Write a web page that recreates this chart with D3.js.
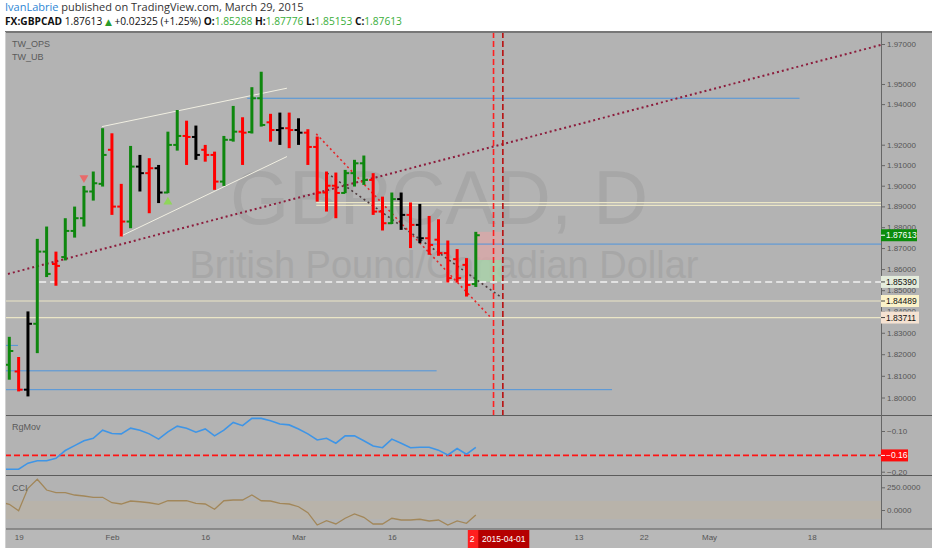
<!DOCTYPE html>
<html>
<head>
<meta charset="utf-8">
<script src="https://cdn.jsdelivr.net/npm/d3@7"></script>
<style>
  body { margin: 0; background: #fff; }
  svg { display: block; font-family: "Liberation Sans", Arial, sans-serif; }
  .axis path { display: none; }
  .axis line { stroke: #666; }
  .axis text { font-size: 8px; fill: #555; }
  .hdr { font-family: "Open Sans", sans-serif; font-size: 11px; }
  .hdr2 { font-family: "Open Sans", sans-serif; font-size: 10.2px; }
  .pane-label { font-size: 9px; fill: #5a5a5a; }
</style>
</head>
<body>
<svg id="chart" width="932" height="550"></svg>
<script>
// Daily GBPCAD bars, 16 Jan - 27 Mar 2015, one entry per trading day.
var opens  = [1.8151, 1.8120, 1.8036, 1.8342, 1.8683, 1.8624, 1.8657, 1.8782, 1.8843, 1.8972,
              1.9009, 1.9175, 1.8899, 1.8827, 1.9093, 1.9061, 1.9085, 1.8967, 1.9199, 1.9243,
              1.9238, 1.9175, 1.9150, 1.9020, 1.9224, 1.9264, 1.9262, 1.9429, 1.9310, 1.9272,
              1.9281, 1.9272, 1.9259, 1.9189, 1.8967, 1.9000, 1.8965, 1.9061, 1.9109, 1.9028,
              1.8875, 1.8819, 1.8935, 1.8859, 1.8811, 1.8747, 1.8740, 1.8676, 1.8647, 1.8620,
              1.85288];
var highs  = [1.8281, 1.8187, 1.8400, 1.8744, 1.8803, 1.8683, 1.8843, 1.8899, 1.8999, 1.9069,
              1.9281, 1.9256, 1.9009, 1.9194, 1.9150, 1.9134, 1.9101, 1.9264, 1.9371, 1.9318,
              1.9294, 1.9199, 1.9166, 1.9243, 1.9391, 1.9335, 1.9484, 1.9561, 1.9352, 1.9358,
              1.9358, 1.9330, 1.9276, 1.9240, 1.9069, 1.9064, 1.9077, 1.9126, 1.9147, 1.9061,
              1.8947, 1.8967, 1.8967, 1.8919, 1.8912, 1.8854, 1.8838, 1.8736, 1.8695, 1.8652,
              1.87776];
var lows   = [1.8082, 1.8028, 1.8005, 1.8205, 1.8562, 1.8521, 1.8641, 1.8750, 1.8803, 1.8928,
              1.8996, 1.8859, 1.8755, 1.8795, 1.8972, 1.8867, 1.8916, 1.8964, 1.9171, 1.9101,
              1.9126, 1.9117, 1.8980, 1.8999, 1.9215, 1.9101, 1.9255, 1.9289, 1.9215, 1.9199,
              1.9183, 1.9199, 1.9101, 1.8923, 1.8875, 1.8843, 1.8964, 1.8996, 1.9004, 1.8859,
              1.8784, 1.8815, 1.8787, 1.8700, 1.8723, 1.8668, 1.8663, 1.8536, 1.8536, 1.8470,
              1.85153];
var closes = [1.8215, 1.8036, 1.8342, 1.8683, 1.8577, 1.8615, 1.8782, 1.8843, 1.8972, 1.9012,
              1.9150, 1.8899, 1.8827, 1.9093, 1.9061, 1.9085, 1.8967, 1.9199, 1.9243, 1.9238,
              1.9150, 1.9150, 1.9020, 1.9224, 1.9264, 1.9259, 1.9429, 1.9297, 1.9272, 1.9281,
              1.9272, 1.9259, 1.9189, 1.8967, 1.9000, 1.8965, 1.9061, 1.9109, 1.9028, 1.8875,
              1.8819, 1.8935, 1.8859, 1.8811, 1.8747, 1.8715, 1.8676, 1.8557, 1.8557, 1.8525,
              1.87613];
// bar painting from the TW_OPS study: u = green, d = red, n = black
var barState = ["u","d","n","u","u","d","u","u","u","u",
                "u","d","d","u","n","d","n","u","u","d",
                "n","d","d","u","u","d","u","u","d","n",
                "d","n","d","d","d","d","u","u","u","d",
                "d","u","n","d","n","d","d","d","d","d",
                "u"];

// RgMov and CCI readings, starting one bar before the first OHLC bar
var studyStart = -1;
var rgMov = [-0.194, -0.194, -0.194, -0.179, -0.173, -0.173, -0.167, -0.148, -0.136, -0.124,
             -0.118, -0.098, -0.106, -0.107, -0.093, -0.098, -0.107, -0.120, -0.102, -0.088,
             -0.093, -0.103, -0.095, -0.112, -0.098, -0.079, -0.087, -0.069, -0.069, -0.075,
             -0.083, -0.085, -0.095, -0.107, -0.122, -0.118, -0.130, -0.112, -0.112, -0.124,
             -0.137, -0.141, -0.120, -0.130, -0.141, -0.140, -0.140, -0.147, -0.159, -0.143,
             -0.157, -0.140];
var rgMovLevel = -0.16;
var cci = [88, 63, -8, 239, 338, 220, 191, 191, 165, 154,
           140, 140, 80, 66, 99, 91, 80, 63, 102, 102,
           102, 74, 66, 8, 102, 110, 110, 165, 102, 99,
           74, 66, 36, -30, -165, -118, -154, -91, -44, -80,
           -154, -154, -91, -110, -110, -102, -121, -110, -165, -121,
           -146, -55];
var cciBand = [100, -100];

// axis ticks
var priceTicks = [1.97, 1.95, 1.94, 1.92, 1.91, 1.90, 1.89, 1.88, 1.87, 1.86,
                  1.85, 1.84, 1.83, 1.82, 1.81, 1.80];
var rgTicks = [-0.10, -0.20];
var cciTicks = [250, 0];
var dateTickBar = [1, 11, 21, 31, 41, 61, 68, 75, 86];
var dateTickLabel = ["19", "Feb", "16", "Mar", "16", "13", "22", "May", "18"];

// drawings on the price pane (bar index / price)
var levelPrice = [1.9429, 1.8719, 1.8123, 1.8036, 1.8241, 1.8918, 1.8905, 1.84489, 1.83711, 1.8539];
var levelFrom  = [25.5, 45.1, null, null, null, 32.9, 32.9, null, null, 3.2];
var levelTo    = [84.7, null, 45.8, 64.6, 0.93, null, null, null, null, null];
var levelKind  = ["blue", "blue", "blue", "blue", "blue", "cream", "cream", "cream", "cream", "dash"];

var trendK1 = [-0.14, 32.9, 34.05, 9.94, 11.87];
var trendP1 = [1.8577, 1.9253, 1.9062, 1.9289, 1.8755];
var trendK2 = [93.4, 51.5, 52.8, 29.76, 29.76];
var trendP2 = [1.9695, 1.8376, 1.8464, 1.9479, 1.9142];
var trendKind = ["maroon", "red", "dark", "white", "white"];

var vLineBar = [51.9, 52.9];
var vLineKind = ["red", "darkred"];

var zoneK1 = [50.07, 50.07];
var zoneK2 = [52.75, 52.75];
var zoneTop = [1.87776, 1.8643];
var zoneBottom = [1.8643, 1.8539];
var zoneKind = ["loss", "gain"];

var markBar = [8, 17];
var markPrice = [1.9038, 1.8922];
var markDir = ["down", "up"];

var axisLabelPrice = [1.8539, 1.84489, 1.83711];
var axisLabelKind = ["dash", "cream1", "cream2"];
var cursorLabels = ["2", "2015-04-01"];

// ---------------------------------------------------------------
var width = 932, height = 550;
var p = { left: 5, right: 881, top: 32, main: 415, rg: 475, cci: 529, bottom: 548 };

var colors = { u: "#0e870e", d: "#ff0000", n: "#000000" };
var lineStyle = {
  blue:  { stroke: "#4f95dc", w: 1, dash: null },
  cream: { stroke: "#ebe6c6", w: 1.2, dash: null },
  dash:  { stroke: "#f2f2f2", w: 1.5, dash: "7,4" },
  maroon:{ stroke: "#8c1c3c", w: 2, dash: "2,3" },
  red:   { stroke: "#e3262a", w: 1.6, dash: "2,3" },
  dark:  { stroke: "#4d3b3d", w: 1.6, dash: "2,3" },
  white: { stroke: "#f1efe2", w: 1, dash: null }
};

var x = d3.scaleLinear().domain([0, 50]).range([9.3, 475.8]);
var y = d3.scaleLog().domain([1.80, 1.97]).range([397.5, 44]);
var yRg = d3.scaleLinear().domain([-0.20, -0.10]).range([471.7, 431]);
var yCci = d3.scaleLinear().domain([0, 250]).range([510, 487.3]);

var svg = d3.select("#chart");
var defs = svg.append("defs");
function clip(id, y0, y1) {
  defs.append("clipPath").attr("id", id).append("rect")
    .attr("x", p.left).attr("y", y0).attr("width", p.right - p.left).attr("height", y1 - y0);
}
clip("clipMain", p.top, p.main);
clip("clipRg", p.main + 1, p.rg);
clip("clipCci", p.rg + 1, p.cci);

// backgrounds
svg.append("rect").attr("width", width).attr("height", height).attr("fill", "#fff");
svg.append("rect").attr("x", p.left).attr("y", p.top)
  .attr("width", width - p.left).attr("height", p.bottom - p.top).attr("fill", "#b3b3b3");
svg.append("rect").attr("x", p.left).attr("y", p.cci)
  .attr("width", width - p.left).attr("height", p.bottom - p.cci).attr("fill", "#b8b8b8");

// header
var h1 = svg.append("text").attr("class", "hdr").attr("x", 5).attr("y", 11);
h1.append("tspan").attr("fill", "#2d86d4").text("IvanLabrie");
h1.append("tspan").attr("fill", "#333").text(" published on TradingView.com, March 29, 2015");

var last = closes.length - 1;
var chg = closes[last] - opens[last];
var f5 = d3.format(".5f");
var h2 = svg.append("text").attr("class", "hdr2").attr("x", 5).attr("y", 25).attr("fill", "#111");
h2.append("tspan").attr("font-weight", "bold").text("FX:GBPCAD");
h2.append("tspan").text(" " + f5(closes[last]) + " ");
h2.append("tspan").attr("fill", "#2a9d2a").attr("font-family", "DejaVu Sans").attr("font-size", "9px").text("\u25B2");
h2.append("tspan").text(" +" + f5(chg) + " (+" + d3.format(".2f")(chg / opens[last] * 100) + "%) ");
[["O:", opens[last]], [" H:", highs[last]], [" L:", lows[last]], [" C:", closes[last]]].forEach(function(d) {
  h2.append("tspan").attr("font-weight", "bold").text(d[0]);
  h2.append("tspan").attr("fill", "#3aae3a").text(f5(d[1]));
});

// ---------------- main pane ----------------
var main = svg.append("g").attr("clip-path", "url(#clipMain)");

main.append("text").attr("x", 439).attr("y", 224).attr("text-anchor", "middle")
  .attr("font-size", "76px").attr("fill", "#a7a7a7").text("GBPCAD, D");
main.append("text").attr("x", 444).attr("y", 278).attr("text-anchor", "middle")
  .attr("font-size", "38px").attr("fill", "#a7a7a7").text("British Pound/Canadian Dollar");

// zones
zoneKind.forEach(function(k, i) {
  main.append("rect")
    .attr("x", x(zoneK1[i])).attr("width", x(zoneK2[i]) - x(zoneK1[i]))
    .attr("y", y(zoneTop[i])).attr("height", y(zoneBottom[i]) - y(zoneTop[i]))
    .attr("fill", k == "loss" ? "#d9a7a7" : "#a9d3a9").attr("opacity", 0.8);
});

// horizontal levels
levelKind.forEach(function(k, i) {
  var s = lineStyle[k];
  main.append("line")
    .attr("x1", levelFrom[i] == null ? p.left : x(levelFrom[i]))
    .attr("x2", levelTo[i] == null ? p.right : x(levelTo[i]))
    .attr("y1", y(levelPrice[i])).attr("y2", y(levelPrice[i]))
    .attr("stroke", s.stroke).attr("stroke-width", s.w)
    .attr("stroke-dasharray", s.dash);
});

// trend lines
trendKind.forEach(function(k, i) {
  var s = lineStyle[k];
  main.append("line")
    .attr("x1", x(trendK1[i])).attr("y1", y(trendP1[i]))
    .attr("x2", x(trendK2[i])).attr("y2", y(trendP2[i]))
    .attr("stroke", s.stroke).attr("stroke-width", s.w)
    .attr("stroke-dasharray", s.dash);
});

// OHLC bars
var bars = main.selectAll("g.bar").data(closes).enter().append("g").attr("class", "bar")
  .attr("stroke", function(d, i) { return colors[barState[i]]; });
bars.append("line")
  .attr("x1", function(d, i) { return x(i); }).attr("x2", function(d, i) { return x(i); })
  .attr("y1", function(d, i) { return y(highs[i]); })
  .attr("y2", function(d, i) { return y(lows[i]); })
  .attr("stroke-width", 3);
bars.append("line")
  .attr("x1", function(d, i) { return x(i) - 4; }).attr("x2", function(d, i) { return x(i); })
  .attr("y1", function(d, i) { return y(opens[i]); })
  .attr("y2", function(d, i) { return y(opens[i]); })
  .attr("stroke-width", 2);
bars.append("line")
  .attr("x1", function(d, i) { return x(i); }).attr("x2", function(d, i) { return x(i) + 4; })
  .attr("y1", function(d, i) { return y(d); })
  .attr("y2", function(d, i) { return y(d); })
  .attr("stroke-width", 2);

// signal markers
markDir.forEach(function(dir, i) {
  main.append("path")
    .attr("d", d3.symbol().type(d3.symbolTriangle).size(34))
    .attr("transform", "translate(" + x(markBar[i]) + "," + y(markPrice[i]) + ")" + (dir == "down" ? " rotate(180)" : ""))
    .attr("fill", dir == "down" ? "#e86a6a" : "#8fd65a");
});

// vertical markers
vLineKind.forEach(function(k, i) {
  main.append("line")
    .attr("x1", x(vLineBar[i])).attr("x2", x(vLineBar[i]))
    .attr("y1", p.top).attr("y2", p.main)
    .attr("stroke", k == "red" ? "#ff2020" : "#b81010")
    .attr("stroke-width", 1.6).attr("stroke-dasharray", "6,3");
});

main.append("text").attr("class", "pane-label").attr("x", 12).attr("y", 47).text("TW_OPS");
main.append("text").attr("class", "pane-label").attr("x", 12).attr("y", 60).text("TW_UB");

// ---------------- RgMov pane ----------------
var rg = svg.append("g").attr("clip-path", "url(#clipRg)");
rg.append("line").attr("x1", p.left).attr("x2", p.right)
  .attr("y1", yRg(rgMovLevel)).attr("y2", yRg(rgMovLevel))
  .attr("stroke", "#ff1414").attr("stroke-width", 1.8).attr("stroke-dasharray", "6,3");
rg.append("path").datum(rgMov)
  .attr("d", d3.line().x(function(d, i) { return x(i + studyStart); }).y(function(d) { return yRg(d); }))
  .attr("fill", "none").attr("stroke", "#3f95e6").attr("stroke-width", 1.6);
rg.append("text").attr("class", "pane-label").attr("x", 12).attr("y", 430).text("RgMov");

// ---------------- CCI pane ----------------
var cc = svg.append("g").attr("clip-path", "url(#clipCci)");
cc.append("rect").attr("x", p.left).attr("width", p.right - p.left)
  .attr("y", yCci(cciBand[0])).attr("height", yCci(cciBand[1]) - yCci(cciBand[0]))
  .attr("fill", "#c2b49a").attr("opacity", 0.35);
cc.append("path").datum(cci)
  .attr("d", d3.line().x(function(d, i) { return x(i + studyStart); }).y(function(d) { return yCci(d); }))
  .attr("fill", "none").attr("stroke", "#a2875a").attr("stroke-width", 1.3);
cc.append("text").attr("class", "pane-label").attr("x", 12).attr("y", 491).text("CCI");

// ---------------- frames ----------------
svg.append("line").attr("x1", p.left).attr("x2", width).attr("y1", p.top).attr("y2", p.top)
  .attr("stroke", "#777").attr("stroke-width", 2);
[p.main + 0.5, p.rg + 0.5, p.cci].forEach(function(v) {
  svg.append("line").attr("x1", p.left).attr("x2", width).attr("y1", v).attr("y2", v)
    .attr("stroke", "#5c5c5c").attr("stroke-width", 1);
});
svg.append("line").attr("x1", p.right + 0.5).attr("x2", p.right + 0.5)
  .attr("y1", p.top).attr("y2", p.cci).attr("stroke", "#666");
svg.append("line").attr("x1", p.left + 0.5).attr("x2", p.left + 0.5)
  .attr("y1", p.top).attr("y2", p.bottom).attr("stroke", "#d0d0d0");

// ---------------- axes ----------------
svg.append("g").attr("class", "axis").attr("transform", "translate(" + p.right + ",0)")
  .call(d3.axisRight(y).tickValues(priceTicks).tickFormat(f5).tickSize(4).tickPadding(2));
svg.append("g").attr("class", "axis").attr("transform", "translate(" + p.right + ",0)")
  .call(d3.axisRight(yRg).tickValues(rgTicks).tickFormat(d3.format(".2f")).tickSize(4).tickPadding(2));
svg.append("g").attr("class", "axis").attr("transform", "translate(" + p.right + ",0)")
  .call(d3.axisRight(yCci).tickValues(cciTicks).tickFormat(d3.format(".4f")).tickSize(4).tickPadding(2));
svg.append("g").attr("class", "axis").attr("transform", "translate(0," + p.cci + ")")
  .call(d3.axisBottom(x).tickValues(dateTickBar)
    .tickFormat(function(d, i) { return dateTickLabel[i]; }).tickSize(0).tickPadding(5));

// price labels on the axis
function axisTag(yy, fill, txtFill, txt, w) {
  var g = svg.append("g").attr("transform", "translate(" + p.right + "," + yy + ")");
  g.append("rect").attr("x", 0).attr("y", -6).attr("width", w).attr("height", 12).attr("fill", fill);
  g.append("line").attr("x1", 0).attr("x2", 4).attr("stroke", txtFill == "#fff" ? "#fff" : "#444");
  g.append("text").attr("x", 5).attr("dy", "0.35em").attr("font-size", "8.5px")
    .attr("fill", txtFill).text(txt);
}
var tagFill = { dash: "#e4ecdc", cream1: "#fbf2c9", cream2: "#f5e2d2" };
axisLabelKind.forEach(function(k, i) {
  axisTag(y(axisLabelPrice[i]), tagFill[k], "#111", f5(axisLabelPrice[i]), 38);
});
axisTag(y(closes[last]), "#0b8c0b", "#fff", f5(closes[last]), 36);
axisTag(yRg(rgMovLevel), "#ff0c0c", "#fff", d3.format(".2f")(rgMovLevel), 27);

// crosshair date labels on the time axis
var c1 = svg.append("g");
c1.append("rect").attr("x", x(50) - 8).attr("y", p.cci + 1).attr("width", 12).attr("height", 18).attr("fill", "#ff1e1e");
c1.append("text").attr("x", x(50) - 6).attr("y", p.cci + 13).attr("font-size", "8.5px").attr("fill", "#fff").text(cursorLabels[0]);
var c2 = svg.append("g");
c2.append("rect").attr("x", x(53) - 25.5).attr("y", p.cci + 1).attr("width", 51).attr("height", 18).attr("fill", "#b50000");
c2.append("text").attr("x", x(53)).attr("y", p.cci + 13).attr("text-anchor", "middle")
  .attr("font-size", "8.5px").attr("fill", "#fff").text(cursorLabels[1]);
</script>
</body>
</html>
